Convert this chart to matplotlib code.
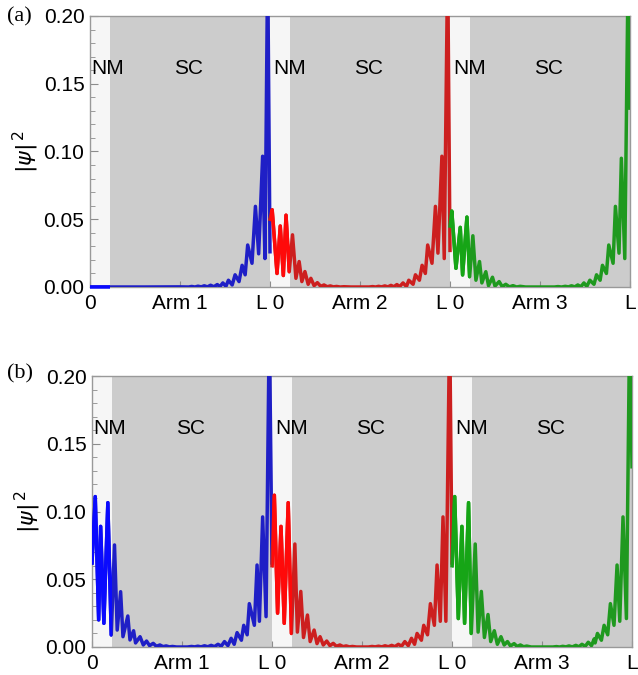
import numpy as np
import matplotlib
matplotlib.use("Agg")
import matplotlib.pyplot as plt
from matplotlib.patches import Rectangle
from matplotlib.ticker import MultipleLocator, FormatStrFormatter

plt.rcParams['font.family'] = ['Liberation Sans', 'DejaVu Sans']

# x tick labels along the three arms (each arm runs 0..L)
x_ticks = [0, 0.5, 1, 1.5, 2, 2.5, 3]
x_labels = ["0", "Arm 1", "L 0", "Arm 2", "L 0", "Arm 3", "L"]
nm_width = 0.11   # normal metal part at the start of each arm

# |psi|^2 along each arm, (position in units of L, value)
# panel (a)
a_arm1 = [(0.000, 0.0000), (0.300, 0.0000), (0.500, 0.0001), (0.548, 0.0000),
          (0.565, 0.0004), (0.583, 0.0000), (0.600, 0.0006), (0.618, 0.0001),
          (0.635, 0.0009), (0.652, 0.0001), (0.670, 0.0013), (0.688, 0.0002),
          (0.707, 0.0018), (0.722, 0.0003), (0.738, 0.0030), (0.755, 0.0005),
          (0.769, 0.0050), (0.790, 0.0015), (0.806, 0.0090), (0.828, 0.0040),
          (0.845, 0.0160), (0.862, 0.0090), (0.876, 0.0310), (0.900, 0.0175),
          (0.919, 0.0595), (0.937, 0.0245), (0.959, 0.0965), (0.972, 0.0210),
          (0.987, 0.2400), (1.000, 0.0260)]
a_arm2 = [(0.000, 0.0500), (0.012, 0.0570), (0.039, 0.0100), (0.057, 0.0450),
          (0.074, 0.0085), (0.089, 0.0530), (0.107, 0.0113), (0.125, 0.0385),
          (0.144, 0.0064), (0.162, 0.0188), (0.177, 0.0040), (0.194, 0.0114),
          (0.212, 0.0020), (0.227, 0.0064), (0.245, 0.0010), (0.263, 0.0032),
          (0.282, 0.0005), (0.300, 0.0015), (0.318, 0.0002), (0.335, 0.0008),
          (0.352, 0.0001), (0.370, 0.0004), (0.390, 0.0000), (0.410, 0.0002),
          (0.450, 0.0000), (0.550, 0.0000), (0.570, 0.0003), (0.587, 0.0000),
          (0.603, 0.0005), (0.620, 0.0001), (0.638, 0.0008), (0.655, 0.0001),
          (0.672, 0.0012), (0.688, 0.0002), (0.705, 0.0018), (0.720, 0.0003),
          (0.739, 0.0030), (0.758, 0.0003), (0.771, 0.0050), (0.795, 0.0020),
          (0.808, 0.0090), (0.830, 0.0050), (0.845, 0.0160), (0.863, 0.0100),
          (0.876, 0.0310), (0.900, 0.0175), (0.919, 0.0595), (0.933, 0.0250),
          (0.955, 0.0965), (0.968, 0.0210), (0.987, 0.2400), (1.000, 0.0270)]
a_arm3 = [(0.000, 0.0450), (0.010, 0.0560), (0.033, 0.0138), (0.057, 0.0440),
          (0.070, 0.0089), (0.094, 0.0516), (0.109, 0.0076), (0.127, 0.0378),
          (0.144, 0.0050), (0.164, 0.0188), (0.177, 0.0030), (0.199, 0.0113),
          (0.214, 0.0010), (0.236, 0.0072), (0.250, 0.0007), (0.273, 0.0040),
          (0.290, 0.0003), (0.310, 0.0020), (0.330, 0.0001), (0.350, 0.0010),
          (0.370, 0.0000), (0.390, 0.0005), (0.420, 0.0000), (0.580, 0.0000),
          (0.600, 0.0003), (0.620, 0.0000), (0.640, 0.0005), (0.658, 0.0001),
          (0.675, 0.0009), (0.693, 0.0001), (0.710, 0.0015), (0.727, 0.0002),
          (0.744, 0.0030), (0.760, 0.0004), (0.777, 0.0050), (0.800, 0.0020),
          (0.814, 0.0090), (0.834, 0.0050), (0.847, 0.0160), (0.869, 0.0100),
          (0.882, 0.0310), (0.906, 0.0175), (0.919, 0.0595), (0.939, 0.0250),
          (0.952, 0.0950), (0.971, 0.0210), (0.990, 0.2400), (1.000, 0.1320)]

# panel (b)
b_arm1 = [(0.000, 0.0620), (0.018, 0.1110), (0.037, 0.0200), (0.048, 0.0890),
          (0.066, 0.0175), (0.088, 0.1065), (0.107, 0.0089), (0.125, 0.0753),
          (0.140, 0.0125), (0.159, 0.0408), (0.172, 0.0076), (0.199, 0.0229),
          (0.211, 0.0052), (0.231, 0.0120), (0.242, 0.0030), (0.267, 0.0076),
          (0.285, 0.0015), (0.303, 0.0044), (0.320, 0.0010), (0.340, 0.0027),
          (0.358, 0.0005), (0.377, 0.0015), (0.395, 0.0003), (0.412, 0.0008),
          (0.430, 0.0001), (0.447, 0.0004), (0.470, 0.0000), (0.530, 0.0000),
          (0.553, 0.0004), (0.570, 0.0001), (0.588, 0.0006), (0.606, 0.0001),
          (0.625, 0.0009), (0.643, 0.0002), (0.662, 0.0012), (0.680, 0.0003),
          (0.700, 0.0020), (0.718, 0.0006), (0.736, 0.0040), (0.755, 0.0010),
          (0.773, 0.0064), (0.790, 0.0020), (0.806, 0.0106), (0.830, 0.0050),
          (0.843, 0.0160), (0.862, 0.0090), (0.874, 0.0320), (0.902, 0.0160),
          (0.917, 0.0605), (0.930, 0.0190), (0.948, 0.0960), (0.967, 0.0224),
          (0.985, 0.2400), (1.000, 0.0620)]
b_arm2 = [(0.000, 0.0600), (0.013, 0.1120), (0.031, 0.0250), (0.050, 0.0890),
          (0.068, 0.0175), (0.090, 0.1065), (0.108, 0.0100), (0.127, 0.0760),
          (0.141, 0.0110), (0.160, 0.0410), (0.175, 0.0070), (0.197, 0.0236),
          (0.212, 0.0040), (0.234, 0.0125), (0.250, 0.0025), (0.267, 0.0076),
          (0.285, 0.0015), (0.304, 0.0044), (0.322, 0.0010), (0.340, 0.0027),
          (0.358, 0.0005), (0.377, 0.0015), (0.395, 0.0003), (0.412, 0.0008),
          (0.430, 0.0001), (0.447, 0.0004), (0.470, 0.0000), (0.535, 0.0000),
          (0.556, 0.0004), (0.573, 0.0001), (0.592, 0.0006), (0.610, 0.0001),
          (0.628, 0.0009), (0.646, 0.0002), (0.665, 0.0012), (0.683, 0.0003),
          (0.702, 0.0020), (0.720, 0.0006), (0.738, 0.0040), (0.757, 0.0010),
          (0.775, 0.0064), (0.792, 0.0020), (0.806, 0.0100), (0.830, 0.0050),
          (0.843, 0.0160), (0.864, 0.0090), (0.880, 0.0320), (0.902, 0.0160),
          (0.917, 0.0605), (0.935, 0.0190), (0.950, 0.0960), (0.966, 0.0190),
          (0.987, 0.2400), (1.000, 0.0620)]
b_arm3 = [(0.000, 0.0600), (0.015, 0.1110), (0.035, 0.0210), (0.055, 0.0890),
          (0.070, 0.0175), (0.092, 0.1065), (0.107, 0.0100), (0.129, 0.0760),
          (0.145, 0.0110), (0.163, 0.0410), (0.180, 0.0070), (0.200, 0.0240),
          (0.215, 0.0040), (0.235, 0.0120), (0.252, 0.0020), (0.272, 0.0076),
          (0.290, 0.0015), (0.308, 0.0040), (0.325, 0.0008), (0.345, 0.0025),
          (0.362, 0.0004), (0.380, 0.0015), (0.398, 0.0002), (0.415, 0.0007),
          (0.440, 0.0000), (0.560, 0.0000), (0.580, 0.0003), (0.598, 0.0000),
          (0.615, 0.0005), (0.633, 0.0001), (0.650, 0.0008), (0.668, 0.0001),
          (0.688, 0.0012), (0.705, 0.0002), (0.722, 0.0020), (0.740, 0.0005),
          (0.757, 0.0035), (0.775, 0.0010), (0.790, 0.0060), (0.795, 0.0030),
          (0.808, 0.0100), (0.830, 0.0050), (0.845, 0.0160), (0.865, 0.0090),
          (0.880, 0.0320), (0.900, 0.0160), (0.917, 0.0605), (0.932, 0.0190),
          (0.950, 0.0960), (0.969, 0.0210), (0.987, 0.2400), (1.000, 0.1330)]

sc_colors = ["#1f1fc6", "#cc1f1f", "#1f991f"]
nm_colors = ["#0a0aff", "#ff0a0a", "#16a516"]
nm_label_x = [0.10, 0.11, 0.11]

fig = plt.figure(figsize=(6.38, 6.75), dpi=100)
ax_a = fig.add_axes([90/638, 1 - 287/675, 540/638, 271/675])
ax_b = fig.add_axes([92/638, 1 - 647/675, 540/638, 271/675])

for ax, arms, tag, ytag in [(ax_a, [a_arm1, a_arm2, a_arm3], "(a)", 0.975),
                            (ax_b, [b_arm1, b_arm2, b_arm3], "(b)", 0.446)]:
    ax.set_xlim(0, 3)
    ax.set_ylim(0, 0.2)
    ax.set_facecolor("#cccccc")
    for k in range(3):
        ax.axvspan(k, k + nm_width, color="#f6f6f6", lw=0, zorder=0)
        ax.text(k + nm_label_x[k], 0.161, "NM", ha="center", va="center", fontsize=15)
        ax.text(k + 0.545, 0.161, "SC", ha="center", va="center", fontsize=15)
    for k, pts in enumerate(arms):
        pts = np.array(pts)
        x = pts[:, 0] + k
        y = pts[:, 1]
        ax.plot(x, y, color=sc_colors[k], lw=2.5, zorder=3)
        ln, = ax.plot(x, y, color=nm_colors[k], lw=2.5, zorder=3)
        ln.set_clip_path(Rectangle((k, -1), nm_width, 2, transform=ax.transData))

    ax.set_xticks(x_ticks)
    ax.set_xticklabels(x_labels)
    ax.yaxis.set_major_locator(MultipleLocator(0.05))
    ax.yaxis.set_minor_locator(MultipleLocator(0.01))
    ax.yaxis.set_major_formatter(FormatStrFormatter("%.2f"))
    ax.tick_params(axis="both", which="both", direction="in", color="#8c8c8c",
                   labelsize=15, top=False, right=False)
    ax.tick_params(axis="y", which="major", length=6, pad=4)
    ax.tick_params(axis="y", which="minor", length=3.5)
    ax.tick_params(axis="x", which="major", length=4, pad=5)
    for s in ax.spines.values():
        s.set_color("#999999")
        s.set_linewidth(1.0)
    ax.set_ylabel(r"$|\psi|^{\,2}$", fontsize=16, labelpad=2)
    fig.text(0.011, ytag, tag, family=["Liberation Serif"], fontsize=16,
             ha="left", va="center")

fig.savefig("out.png", dpi=100)
